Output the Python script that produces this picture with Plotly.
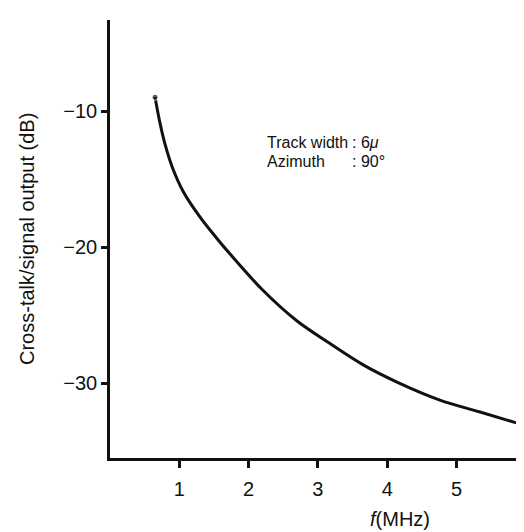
import plotly.graph_objects as go

# Data
freq_mhz = [0.65, 0.72, 0.80, 0.90, 1.06, 1.30, 1.54, 1.73, 2.21, 2.69, 3.17, 3.66, 4.18, 4.76, 5.34, 5.97]
crosstalk_db = [-8.99, -10.85, -12.55, -14.15, -15.95, -17.8, -19.35, -20.5, -23.2, -25.4,
                -27.08, -28.68, -30.02, -31.25, -32.13, -33.09]
x_ticks = [1, 2, 3, 4, 5]
y_ticks = [-10, -20, -30]
y_tick_labels = ["\u221210", "\u221220", "\u221230"]
note_labels = ["Track width", "Azimuth"]
note_values = [": 6<i>\u03bc</i>", ": 90\u00b0"]

FONT = "Liberation Sans, Arial, Helvetica, sans-serif"

fig = go.Figure()
fig.add_trace(go.Scatter(
    x=freq_mhz, y=crosstalk_db, mode="lines+markers",
    line=dict(color="#111", width=3, shape="spline", smoothing=1.0),
    marker=dict(size=[6] + [0] * (len(freq_mhz) - 1), color="#111"),
    hoverinfo="skip", showlegend=False,
))

# page body has an 8px default margin, so the figure is sized/offset to compensate
fig.update_layout(
    width=516, height=524,
    margin=dict(l=102, r=0, t=12, b=74),
    plot_bgcolor="white", paper_bgcolor="white",
    font=dict(family=FONT, size=20, color="#111"),
    showlegend=False,
)
fig.update_xaxes(
    range=[0, 5.974], showgrid=False, zeroline=False,
    showline=True, linecolor="#111", linewidth=2.5,
    tickmode="array", tickvals=x_ticks, ticktext=[str(v) for v in x_ticks],
    ticks="outside", ticklen=7, tickwidth=2.5, tickcolor="#111",
    ticklabelstandoff=4,
)
fig.update_yaxes(
    range=[-35.51, -3.31], showgrid=False, zeroline=False,
    showline=True, linecolor="#111", linewidth=2.5,
    tickmode="array", tickvals=y_ticks, ticktext=y_tick_labels,
    ticks="outside", ticklen=6, tickwidth=2.5, tickcolor="#111",
)

# y axis title
fig.add_annotation(
    text="Cross-talk/signal output (dB)", textangle=-90,
    xref="paper", yref="paper", x=0, y=0.5, xanchor="center", yanchor="middle",
    xshift=-83, showarrow=False, font=dict(size=20),
)
# x axis title
fig.add_annotation(
    text="<i>f</i>(MHz)", xref="x", yref="paper", x=4.18, y=0,
    xanchor="center", yanchor="middle", yshift=-61, showarrow=False,
    font=dict(size=20),
)
# parameter notes
note_y = [-12.35, -13.68]
for lbl, val, yy in zip(note_labels, note_values, note_y):
    fig.add_annotation(text=lbl, x=2.237, y=yy, xanchor="left", yanchor="middle",
                       showarrow=False, font=dict(size=16))
    fig.add_annotation(text=val, x=3.463, y=yy, xanchor="left", yanchor="middle",
                       showarrow=False, font=dict(size=16))

fig.write_html("out.html")
